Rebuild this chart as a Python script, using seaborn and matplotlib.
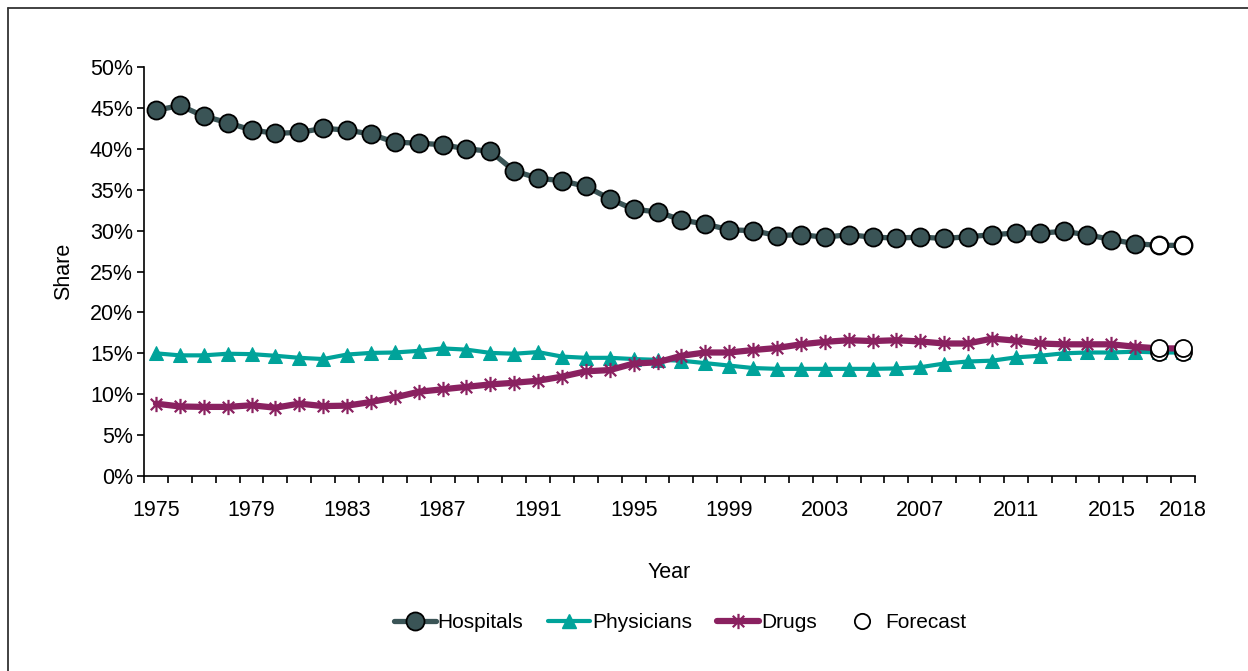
import numpy as np
import pandas as pd
import matplotlib
matplotlib.use("Agg")
import matplotlib.pyplot as plt
from matplotlib.lines import Line2D
from matplotlib.path import Path
from matplotlib.ticker import FixedLocator, FuncFormatter
import seaborn as sns

years = list(range(1975, 2019))
forecast_years = [2017, 2018]

hospitals = [44.7, 45.3, 44.0, 43.2, 42.3, 41.9, 42.0, 42.5, 42.3, 41.8,
             40.8, 40.7, 40.5, 40.0, 39.7, 37.3, 36.4, 36.1, 35.4, 33.9,
             32.6, 32.3, 31.3, 30.8, 30.1, 30.0, 29.4, 29.5, 29.2, 29.5,
             29.2, 29.1, 29.2, 29.05, 29.25, 29.5, 29.7, 29.7, 29.9, 29.5,
             28.9, 28.4, 28.2, 28.2]
physicians = [15.0, 14.75, 14.75, 14.95, 14.9, 14.7, 14.45, 14.3, 14.85, 15.05,
              15.1, 15.3, 15.6, 15.45, 15.05, 14.95, 15.15, 14.6, 14.45, 14.45,
              14.3, 14.2, 14.1, 13.8, 13.5, 13.2, 13.1, 13.1, 13.1, 13.1,
              13.1, 13.15, 13.3, 13.75, 14.0, 14.1, 14.5, 14.7, 15.0, 15.1,
              15.1, 15.2, 15.1, 15.1]
drugs = [8.85, 8.5, 8.45, 8.45, 8.65, 8.35, 8.85, 8.55, 8.6, 9.05,
         9.6, 10.3, 10.6, 10.9, 11.2, 11.4, 11.65, 12.15, 12.8, 12.95,
         13.75, 13.9, 14.7, 15.1, 15.1, 15.4, 15.65, 16.1, 16.4, 16.6,
         16.5, 16.6, 16.45, 16.2, 16.2, 16.8, 16.55, 16.2, 16.1, 16.1,
         16.1, 15.8, 15.6, 15.6]

year_labels = [1975, 1979, 1983, 1987, 1991, 1995, 1999, 2003, 2007, 2011, 2015, 2018]
y_ticks = list(range(0, 55, 5))

df = pd.DataFrame({"Year": years, "Hospitals": hospitals,
                   "Physicians": physicians, "Drugs": drugs})

sns.set_style("white")
plt.rcParams["font.family"] = ["Liberation Sans", "DejaVu Sans"]
plt.rcParams["text.color"] = "black"
plt.rcParams["axes.labelcolor"] = "black"
FS = 15.5
FS_LEG = 15

c_hosp = "#3a5456"
c_phys = "#00a39a"
c_drug = "#8a2160"

# six-spoke star marker: a vertical bar crossed by an X
star = Path([(0, -1), (0, 1), (-0.75, -0.75), (0.75, 0.75), (-0.75, 0.75), (0.75, -0.75)],
            [Path.MOVETO, Path.LINETO, Path.MOVETO, Path.LINETO, Path.MOVETO, Path.LINETO])

fig = plt.figure(figsize=(12.48, 6.71), dpi=100)
ax = fig.add_axes([0.1154, 0.2906, 0.8421, 0.6095])

sns.lineplot(data=df, x="Year", y="Physicians", ax=ax, color=c_phys, lw=3.0,
             marker="^", markersize=9.5, markerfacecolor=c_phys, markeredgecolor=c_phys,
             zorder=2)
sns.lineplot(data=df, x="Year", y="Drugs", ax=ax, color=c_drug, lw=4.5,
             marker=star, markersize=11, markeredgewidth=1.6,
             markerfacecolor=c_drug, markeredgecolor=c_drug, zorder=3)
sns.lineplot(data=df, x="Year", y="Hospitals", ax=ax, color=c_hosp, lw=3.8,
             marker="o", markersize=13, markerfacecolor=c_hosp,
             markeredgecolor="black", markeredgewidth=1.3, zorder=4)

fc = df[df["Year"].isin(forecast_years)]
for col in ["Physicians", "Drugs", "Hospitals"]:
    sns.scatterplot(data=fc, x="Year", y=col, ax=ax, s=150, color="white",
                    edgecolor="black", linewidth=1.3, zorder=6, legend=False)

ax.set_xlim(1974.5, 2018.5)
ax.set_ylim(0, 50)

ax.xaxis.set_major_locator(FixedLocator(year_labels))
ax.xaxis.set_minor_locator(FixedLocator(np.arange(1974.5, 2019.0, 1.0)))
ax.yaxis.set_major_locator(FixedLocator(y_ticks))
ax.yaxis.set_major_formatter(FuncFormatter(lambda v, p: f"{v:.0f}%"))

ax.tick_params(axis="x", which="major", length=0, pad=17, labelsize=FS, colors="black")
ax.tick_params(axis="x", which="minor", length=5, width=1.2, direction="out",
               color="black", bottom=True)
ax.tick_params(axis="y", which="major", length=5, width=1.2, direction="out",
               left=True, pad=3, labelsize=FS, colors="black")

for side in ["top", "right"]:
    ax.spines[side].set_visible(False)
for side in ["left", "bottom"]:
    ax.spines[side].set_color("black")
    ax.spines[side].set_linewidth(1.2)

ax.set_xlabel("Year", fontsize=FS, labelpad=30, color="black")
ax.set_ylabel("Share", fontsize=FS, labelpad=11, color="black")

handles = [
    Line2D([], [], color=c_hosp, lw=3.8, marker="o", markersize=13,
           markerfacecolor=c_hosp, markeredgecolor="black", markeredgewidth=1.3),
    Line2D([], [], color=c_phys, lw=3.0, marker="^", markersize=9.5,
           markerfacecolor=c_phys, markeredgecolor=c_phys),
    Line2D([], [], color=c_drug, lw=4.5, marker=star, markersize=11,
           markeredgewidth=1.6, markeredgecolor=c_drug),
    Line2D([], [], linestyle="none", marker="o", markersize=11,
           markerfacecolor="white", markeredgecolor="black", markeredgewidth=1.3),
]
labels = ["Hospitals", "Physicians", "Drugs", "Forecast"]
leg = fig.legend(handles, labels, loc="center", bbox_to_anchor=(0.545, 0.072), ncol=4,
                 frameon=False, fontsize=FS_LEG, handlelength=2.0, handletextpad=0.1,
                 columnspacing=1.2)
for t in leg.get_texts():
    t.set_color("black")

# outer frame on the top and left edges
fig.add_artist(Line2D([8 / 1248, 8 / 1248], [0, 1 - 8 / 671], transform=fig.transFigure,
                      color="#333333", lw=1.3))
fig.add_artist(Line2D([8 / 1248, 1], [1 - 8 / 671, 1 - 8 / 671], transform=fig.transFigure,
                      color="#333333", lw=1.3))

fig.savefig("out.png", dpi=100, facecolor="white")
